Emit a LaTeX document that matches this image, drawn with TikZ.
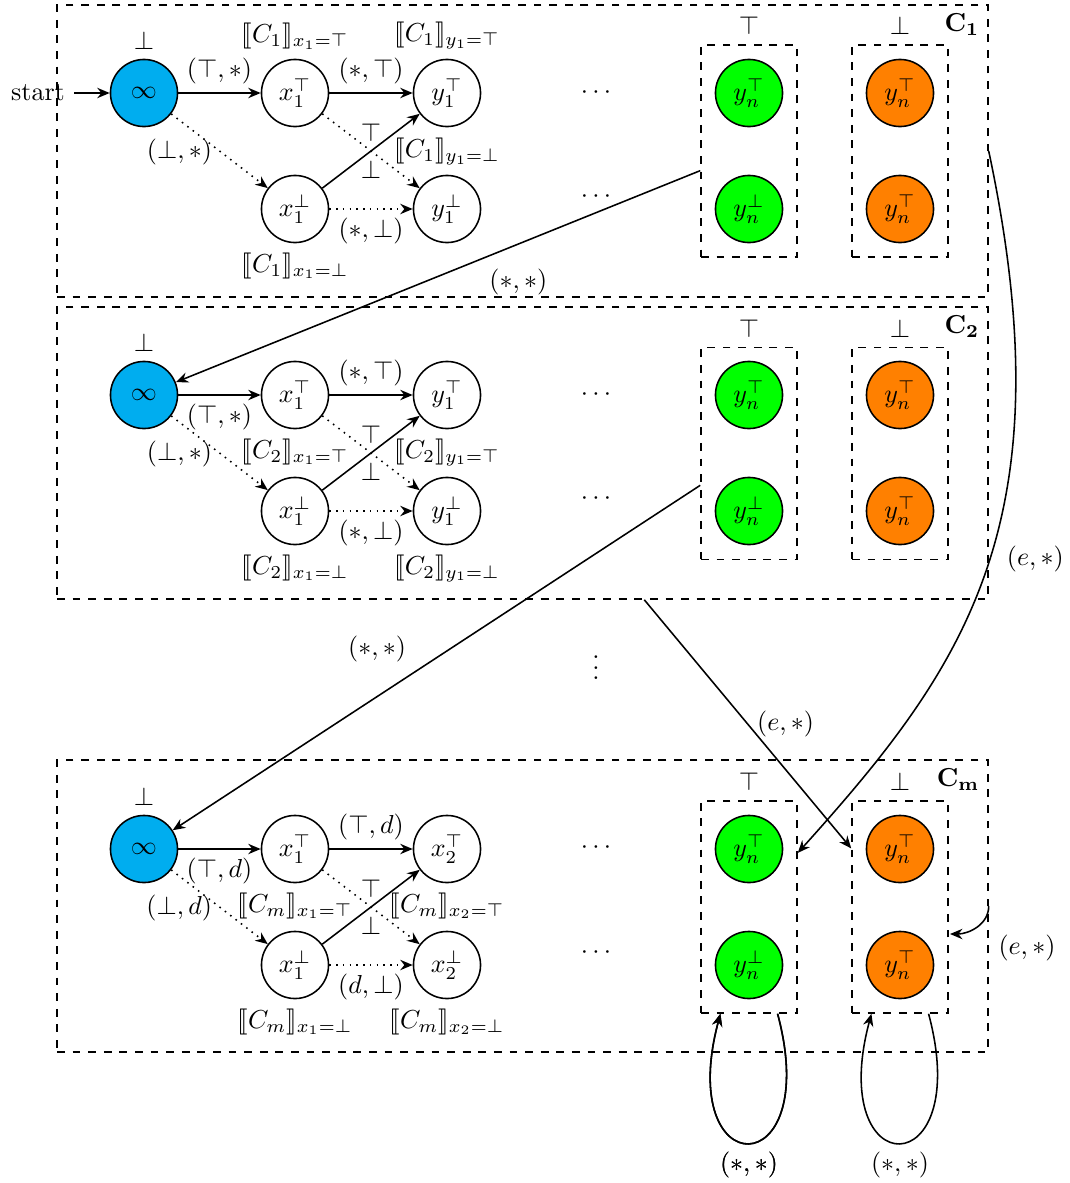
\documentclass[tikz,border=0pt]{standalone}
\usepackage{stmaryrd}
\usetikzlibrary{arrows.meta}
\definecolor{infblue}{RGB}{0,173,239}
\definecolor{topgreen}{RGB}{0,255,0}
\definecolor{botorange}{RGB}{255,128,0}
\begin{document}
\begin{tikzpicture}[x=0.3846pt,y=0.3846pt, semithick,
  >={Stealth[length=4.8pt,width=4pt,inset=1.6pt]},
  st/.style={circle,draw,minimum size=25.8pt,inner sep=0pt},
  infst/.style={st,fill=infblue},
  gst/.style={st,fill=topgreen},
  ost/.style={st,fill=botorange},
  blockbox/.style={draw,dashed,minimum width=358pt,minimum height=112.3pt,inner sep=0pt},
  subbox/.style={draw,dashed,minimum width=36.9pt,minimum height=81.5pt,inner sep=0pt},
  dotarr/.style={->,dotted}]
\useasboundingbox (0,0) rectangle (1069,-1183);

% ---------------- Block C1 ----------------
\node[blockbox] (B1) at (522.5,-151) {};
\node[anchor=north east] (B1lab) at (B1.north east) {$\mathbf{C_1}$};
\node (start) at (38,-93) {start};
\node[infst, label=above:$\bot$] (i1) at (144,-93) {$\infty$};
\node[st, label=above:{$\llbracket C_1\rrbracket_{x_1=\top}$}] (a1) at (295,-93) {$x_1^\top$};
\node[st, label=below:{$\llbracket C_1\rrbracket_{x_1=\bot}$}] (b1) at (295,-209) {$x_1^\bot$};
\node[st, label=above:{$\llbracket C_1\rrbracket_{y_1=\top}$}] (c1) at (447,-93) {$y_1^\top$};
\node[st, label=above:{$\llbracket C_1\rrbracket_{y_1=\bot}$}] (d1) at (447,-209) {$y_1^\bot$};
\node (dA1) at (596,-93) {$\cdots$};
\node (dB1) at (596,-197) {$\cdots$};
\node[subbox, label=above:$\top$] (G1) at (749,-151) {};
\node[subbox, label=above:$\bot$] (O1) at (900,-151) {};
\node[gst] (g1a) at (749,-93) {$y_n^\top$};
\node[gst] (g1b) at (749,-209) {$y_n^\bot$};
\node[ost] (o1a) at (900,-93) {$y_n^\top$};
\node[ost] (o1b) at (900,-209) {$y_n^\top$};
\draw[->] (start) -- (i1);
\draw[->] (i1) -- node[above]{$(\top,*)$} (a1);
\draw[dotarr] (i1) -- node[pos=0.52,left]{$(\bot,*)$} (b1);
\draw[->] (a1) -- node[above]{$(*,\top)$} (c1);
\draw[dotarr] (a1) -- (d1);
\draw[->] (b1) -- node[above]{$\top$} node[below]{$\bot$} (c1);
\draw[dotarr] (b1) -- node[below]{$(*,\bot)$} (d1);

% ---------------- Block C2 ----------------
\node[blockbox] (B2) at (522.5,-453) {};
\node[anchor=north east] (B2lab) at (B2.north east) {$\mathbf{C_2}$};
\node[infst, label=above:$\bot$] (i2) at (144,-395) {$\infty$};
\node[st, label=below:{$\llbracket C_2\rrbracket_{x_1=\top}$}] (a2) at (295,-395) {$x_1^\top$};
\node[st, label=below:{$\llbracket C_2\rrbracket_{x_1=\bot}$}] (b2) at (295,-511) {$x_1^\bot$};
\node[st, label=below:{$\llbracket C_2\rrbracket_{y_1=\top}$}] (c2) at (447,-395) {$y_1^\top$};
\node[st, label=below:{$\llbracket C_2\rrbracket_{y_1=\bot}$}] (d2) at (447,-511) {$y_1^\bot$};
\node (dA2) at (596,-395) {$\cdots$};
\node (dB2) at (596,-499) {$\cdots$};
\node[subbox, label=above:$\top$] (G2) at (749,-453.5) {};
\node[subbox, label=above:$\bot$] (O2) at (900,-453.5) {};
\node[gst] (g2a) at (749,-395) {$y_n^\top$};
\node[gst] (g2b) at (749,-511) {$y_n^\bot$};
\node[ost] (o2a) at (900,-395) {$y_n^\top$};
\node[ost] (o2b) at (900,-511) {$y_n^\top$};
\draw[->] (i2) -- node[below]{$(\top,*)$} (a2);
\draw[dotarr] (i2) -- node[pos=0.52,left]{$(\bot,*)$} (b2);
\draw[->] (a2) -- node[above]{$(*,\top)$} (c2);
\draw[dotarr] (a2) -- (d2);
\draw[->] (b2) -- node[above]{$\top$} node[below]{$\bot$} (c2);
\draw[dotarr] (b2) -- node[below]{$(*,\bot)$} (d2);

\node (vd) at (596,-660) {$\vdots$};

% ---------------- Block Cm ----------------
\node[blockbox] (B3) at (522.5,-906) {};
\node[anchor=north east] (B3lab) at (B3.north east) {$\mathbf{C_m}$};
\node[infst, label=above:$\bot$] (i3) at (144,-849) {$\infty$};
\node[st, label=below:{$\llbracket C_m\rrbracket_{x_1=\top}$}] (a3) at (295,-849) {$x_1^\top$};
\node[st, label=below:{$\llbracket C_m\rrbracket_{x_1=\bot}$}] (b3) at (295,-965) {$x_1^\bot$};
\node[st, label=below:{$\llbracket C_m\rrbracket_{x_2=\top}$}] (c3) at (447,-849) {$x_2^\top$};
\node[st, label=below:{$\llbracket C_m\rrbracket_{x_2=\bot}$}] (d3) at (447,-965) {$x_2^\bot$};
\node (dA3) at (596,-848) {$\cdots$};
\node (dB3) at (596,-953) {$\cdots$};
\node[subbox, label=above:$\top$] (G3) at (749,-907) {};
\node[subbox, label=above:$\bot$] (O3) at (900,-907) {};
\node[gst] (g3a) at (749,-849) {$y_n^\top$};
\node[gst] (g3b) at (749,-965) {$y_n^\bot$};
\node[ost] (o3a) at (900,-849) {$y_n^\top$};
\node[ost] (o3b) at (900,-965) {$y_n^\top$};
\draw[->] (i3) -- node[below]{$(\top,d)$} (a3);
\draw[dotarr] (i3) -- node[pos=0.52,left]{$(\bot,d)$} (b3);
\draw[->] (a3) -- node[above]{$(\top,d)$} (c3);
\draw[dotarr] (a3) -- (d3);
\draw[->] (b3) -- node[above]{$\top$} node[below]{$\bot$} (c3);
\draw[dotarr] (b3) -- node[below]{$(d,\bot)$} (d3);

% ---------------- Inter-block connectors ----------------
\draw[->] (G1) -- node[pos=0.42,below right]{$(*,*)$} (i2);
\draw[->] (G2) -- node[pos=0.54,above left]{$(*,*)$} (i3);
\draw[->] (B2) -- node[midway,right]{$(e,*)$} (O3);
\draw[->] (B1.east) to[out=-78,in=48,out distance=146pt,in distance=96pt]
  node[pos=0.48,right=3pt]{$(e,*)$} (G3);
\coordinate (eT) at (950,-934);
\draw[->] (B3.east) to[out=-90,in=0] node[pos=0.3,below right=2pt]{$(e,*)$} (eT);
\draw[->] (G3) to[out=-75,in=-105,looseness=8] node[below]{$(*,*)$} (G3);
\draw[->] (G3) to[out=-75,in=-105,looseness=8] node[below]{$(*,*)$} (G3);
\draw[->] (O3) to[out=-75,in=-105,looseness=8] node[below]{$(*,*)$} (O3);
\end{tikzpicture}
\end{document}
